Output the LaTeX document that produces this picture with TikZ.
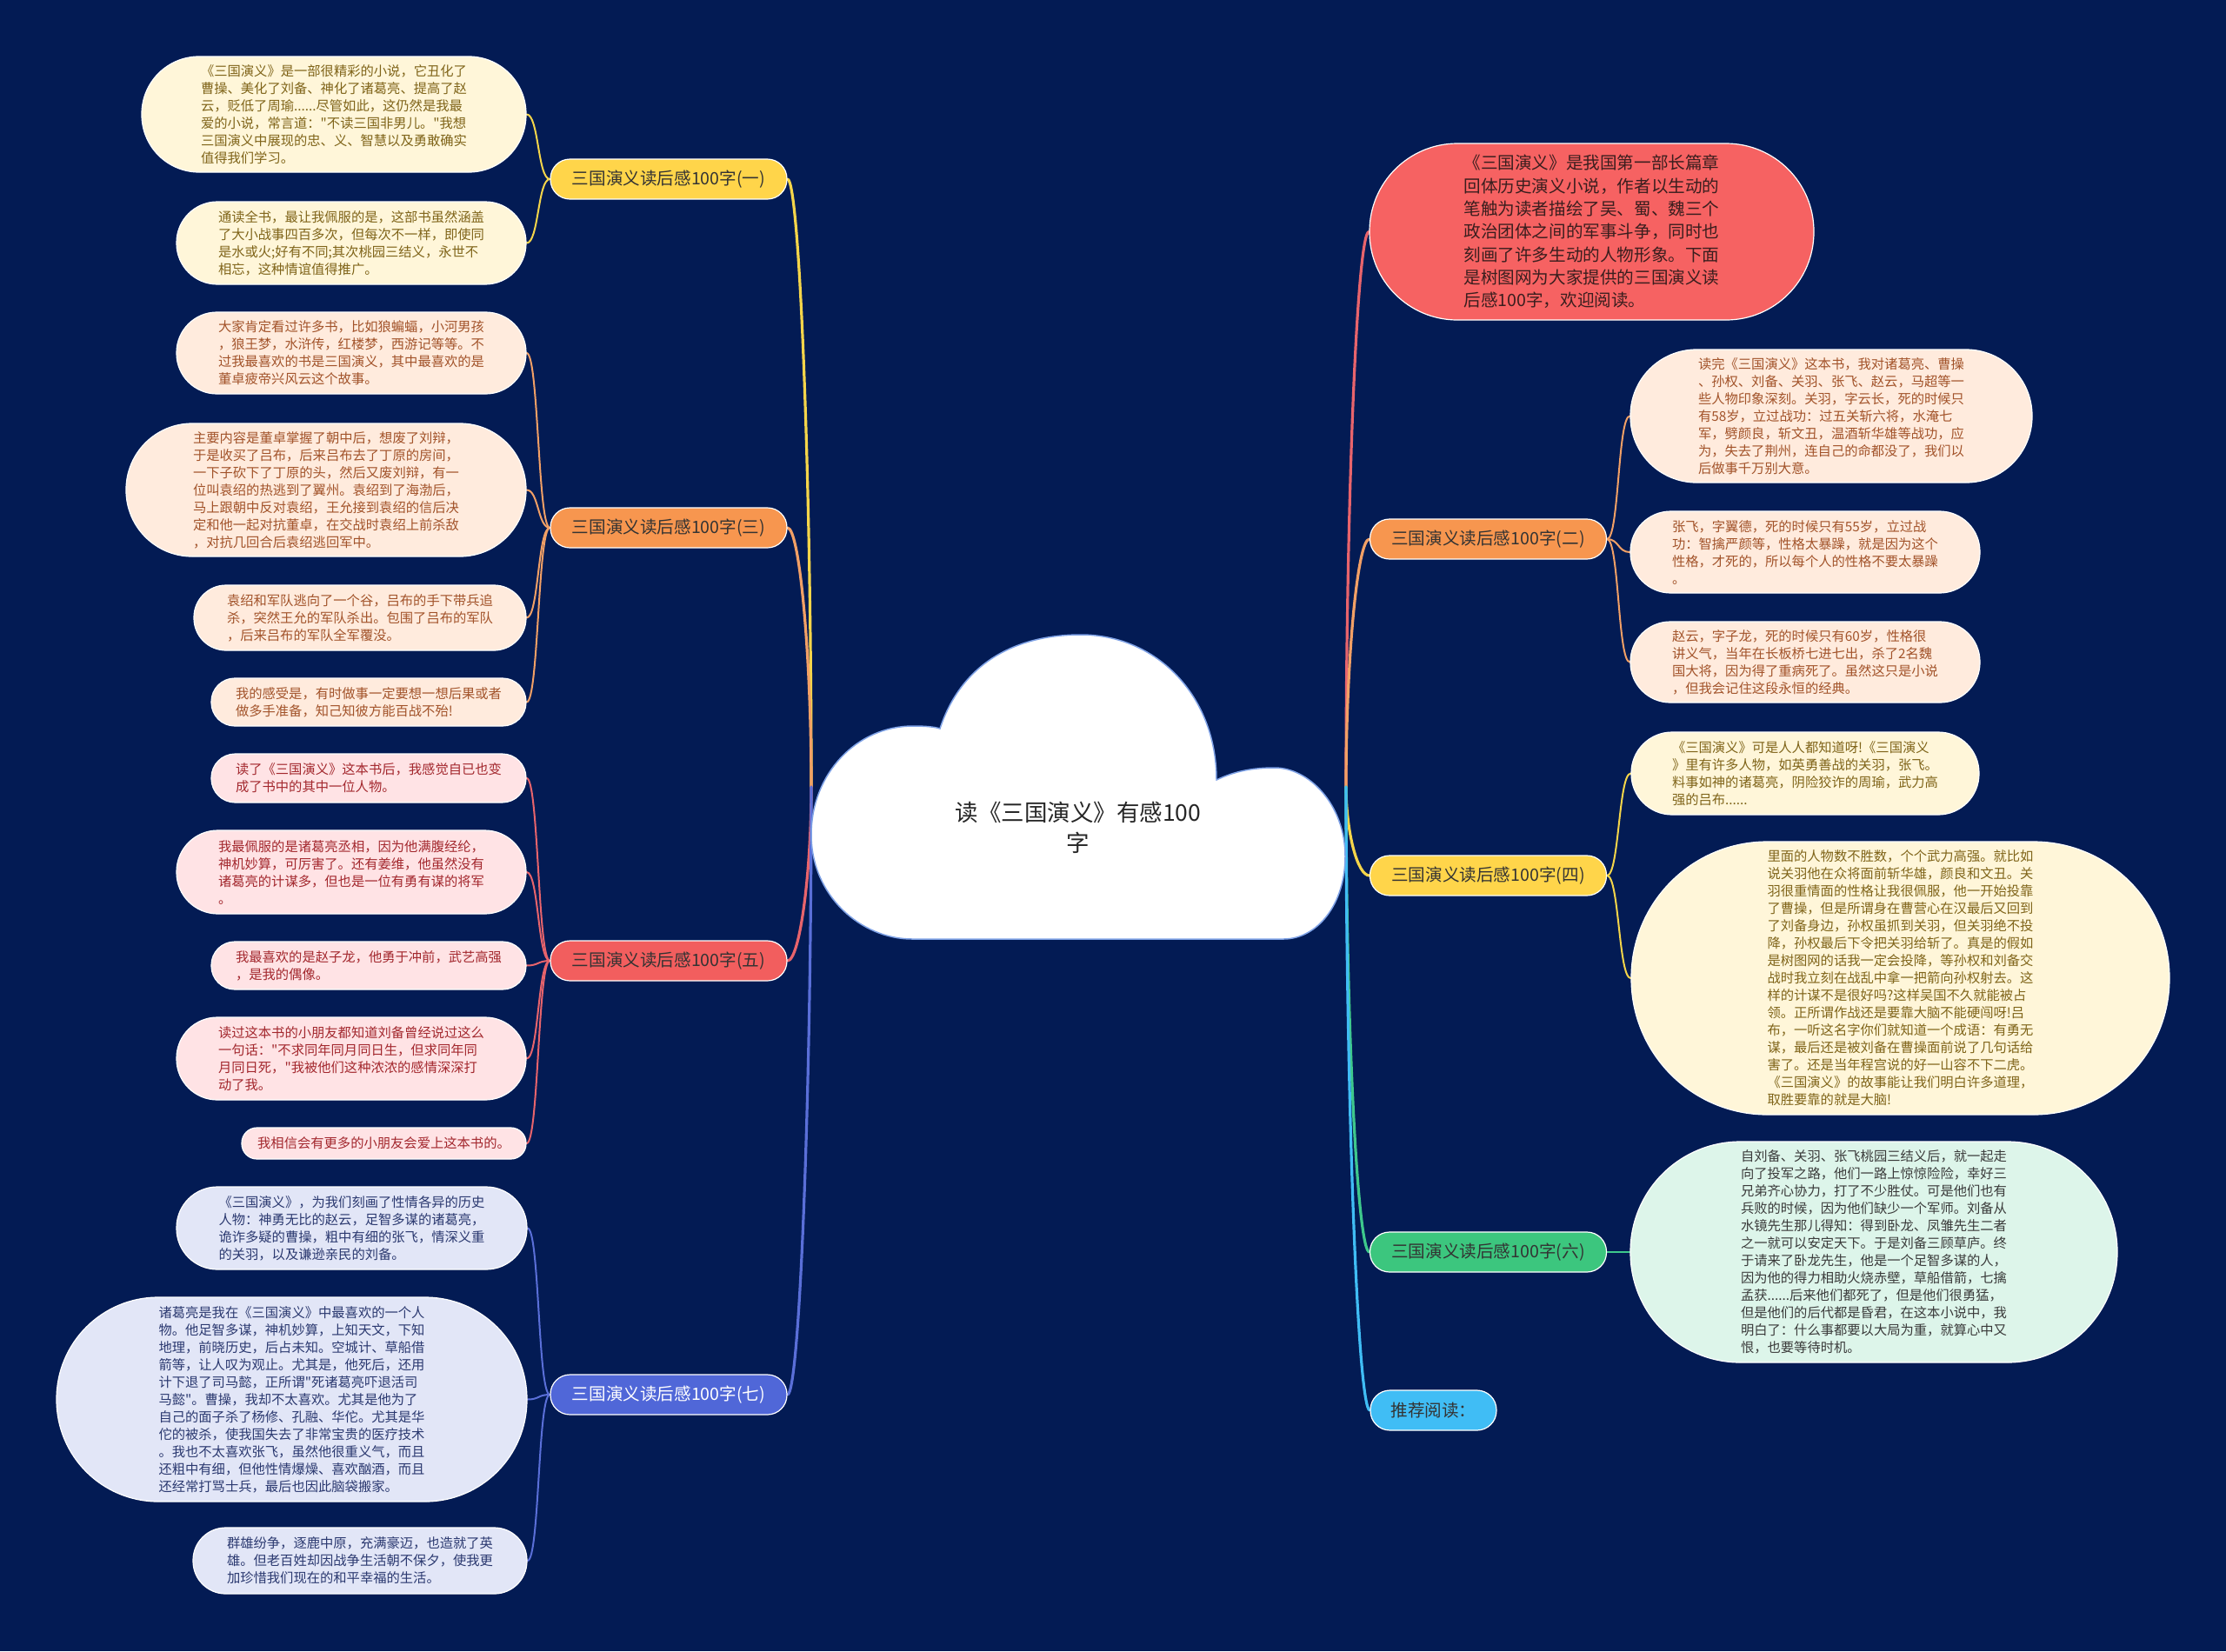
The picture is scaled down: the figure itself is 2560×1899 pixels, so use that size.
\documentclass[tikz,border=0pt]{standalone}
\usepackage{fontspec}
\newfontfamily\cjk{Noto Sans CJK SC}
\newcommand\lfnt{\cjk\fontsize{15.3}{20}\selectfont}
\newcommand\pfnt{\cjk\fontsize{19.6}{24}\selectfont}
\newcommand\bfnt{\cjk\fontsize{19.6}{26.3}\selectfont}
\newcommand\rfnt{\cjk\fontsize{26.5}{35}\selectfont}
\definecolor{bg}{HTML}{031B54}
\definecolor{cloudedge}{HTML}{7FA2E6}
\definecolor{creamfill}{HTML}{FFF6D9}
\definecolor{creamtx}{HTML}{7F6419}
\definecolor{peachfill}{HTML}{FFEBDD}
\definecolor{peachtx}{HTML}{A2532A}
\definecolor{pinkfill}{HTML}{FFE3E5}
\definecolor{pinktx}{HTML}{A3282E}
\definecolor{lavfill}{HTML}{E2E6F7}
\definecolor{lavtx}{HTML}{2B3970}
\definecolor{mintfill}{HTML}{DDF5EA}
\definecolor{minttx}{HTML}{3A3A3A}
\definecolor{redfill}{HTML}{F66262}
\definecolor{redtx}{HTML}{3A1E1E}
\definecolor{pilltx}{HTML}{333333}
\definecolor{yelpill}{HTML}{FFD54A}
\definecolor{orpill}{HTML}{F7964F}
\definecolor{redpill}{HTML}{F25E5E}
\definecolor{bluepill}{HTML}{5067D8}
\definecolor{greenpill}{HTML}{3CC67E}
\definecolor{skypill}{HTML}{40BDF5}
\definecolor{lnyel}{HTML}{F5D54A}
\definecolor{lnor}{HTML}{F2A066}
\definecolor{lnred}{HTML}{E8646C}
\definecolor{lnblue}{HTML}{5A6FD8}
\definecolor{lngreen}{HTML}{3EC88C}
\definecolor{lnsky}{HTML}{40BDF5}
\pgfdeclarelayer{bgl}
\pgfsetlayers{bgl,main}
\tikzset{
  sz/.style 2 args={minimum width=#1, minimum height=#2, rounded corners={#2/2-0.5}},
  leaf/.style={draw=white, line width=1.2, align=left, inner sep=0, font=\lfnt},
  pill/.style={draw=white, line width=1.2, inner sep=0, font=\pfnt, text=pilltx, sz={272}{46}},
  rootln/.style={line width=3.2, line cap=round},
  leafln/.style={line width=2, line cap=round},
}
\begin{document}
\begin{tikzpicture}[x=1pt,y=-1pt]
\begin{pgfonlayer}{bgl}
\fill[bg] (0,0) rectangle (2560,1899);
\end{pgfonlayer}
\useasboundingbox (0,0) rectangle (2560,1899);

% central cloud
\fill[white, draw=cloudedge, line width=1.5] (1049,1080) .. controls (990,1080) and (933,1030) .. (933,960)
  .. controls (933,890) and (985,835) .. (1050,835)
  .. controls (1065,835) and (1075,836) .. (1081,838)
  .. controls (1105,765) and (1165,730) .. (1243,730)
  .. controls (1330,730) and (1399,800) .. (1399,897)
  .. controls (1420,887) and (1440,883) .. (1466,883)
  .. controls (1505,883) and (1547,925) .. (1547,985)
  .. controls (1547,1040) and (1515,1080) .. (1476,1080) -- cycle;
\node[font=\rfnt, align=center, text=black!85] (root) at (1240,952) {读《三国演义》有感100\\字};
\coordinate (rootL) at (933,905);
\coordinate (rootR) at (1548,905);

% branch pills
\node[pill, fill=yelpill] (b1) at (769,206) {三国演义读后感100字(一)};
\node[pill, fill=orpill] (b3) at (769,607) {三国演义读后感100字(三)};
\node[pill, fill=redpill] (b5) at (769,1105) {三国演义读后感100字(五)};
\node[pill, fill=bluepill, text=white] (b7) at (769,1604) {三国演义读后感100字(七)};
\node[pill, fill=orpill] (b2) at (1711.5,620) {三国演义读后感100字(二)};
\node[pill, fill=yelpill] (b4) at (1711.5,1007) {三国演义读后感100字(四)};
\node[pill, fill=greenpill] (b6) at (1711.5,1440) {三国演义读后感100字(六)};
\node[pill, fill=skypill, sz={145}{46}] (b8) at (1648.5,1622) {推荐阅读：};

% red intro box
\node[draw=white, line width=1.2, align=left, inner sep=0, font=\bfnt, fill=redfill, text=redtx, sz={511}{203}] (r0) at (1830.5,266.5) {《三国演义》是我国第一部长篇章\\回体历史演义小说，作者以生动的\\笔触为读者描绘了吴、蜀、魏三个\\政治团体之间的军事斗争，同时也\\刻画了许多生动的人物形象。下面\\是树图网为大家提供的三国演义读\\后感100字，欢迎阅读。};

% (一)
\node[leaf, fill=creamfill, text=creamtx, sz={442}{133}] (l1a) at (384,131.5) {《三国演义》是一部很精彩的小说，它丑化了\\曹操、美化了刘备、神化了诸葛亮、提高了赵\\云，贬低了周瑜......尽管如此，这仍然是我最\\爱的小说，常言道："不读三国非男儿。"我想\\三国演义中展现的忠、义、智慧以及勇敢确实\\值得我们学习。};
\node[leaf, fill=creamfill, text=creamtx, sz={402}{95}] (l1b) at (404,279.5) {通读全书，最让我佩服的是，这部书虽然涵盖\\了大小战事四百多次，但每次不一样，即使同\\是水或火;好有不同;其次桃园三结义，永世不\\相忘，这种情谊值得推广。};

% (三)
\node[leaf, fill=peachfill, text=peachtx, sz={402}{94}] (l3a) at (404,406) {大家肯定看过许多书，比如狼蝙蝠，小河男孩\\，狼王梦，水浒传，红楼梦，西游记等等。不\\过我最喜欢的书是三国演义，其中最喜欢的是\\董卓疲帝兴风云这个故事。};
\node[leaf, fill=peachfill, text=peachtx, sz={460}{153}] (l3b) at (375,563.5) {主要内容是董卓掌握了朝中后，想废了刘辩，\\于是收买了吕布，后来吕布去了丁原的房间，\\一下子砍下了丁原的头，然后又废刘辩，有一\\位叫袁绍的热逃到了翼州。袁绍到了海渤后，\\马上跟朝中反对袁绍，王允接到袁绍的信后决\\定和他一起对抗董卓，在交战时袁绍上前杀敌\\，对抗几回合后袁绍逃回军中。};
\node[leaf, fill=peachfill, text=peachtx, sz={382}{75}] (l3c) at (414,710.5) {袁绍和军队逃向了一个谷，吕布的手下带兵追\\杀，突然王允的军队杀出。包围了吕布的军队\\，后来吕布的军队全军覆没。};
\node[leaf, fill=peachfill, text=peachtx, sz={362}{55}] (l3d) at (424,807.5) {我的感受是，有时做事一定要想一想后果或者\\做多手准备，知己知彼方能百战不殆!};

% (五)
\node[leaf, fill=pinkfill, text=pinktx, sz={362}{56}] (l5a) at (424,895) {读了《三国演义》这本书后，我感觉自已也变\\成了书中的其中一位人物。};
\node[leaf, fill=pinkfill, text=pinktx, sz={402}{96}] (l5b) at (404,1003) {我最佩服的是诸葛亮丞相，因为他满腹经纶，\\神机妙算，可厉害了。还有姜维，他虽然没有\\诸葛亮的计谋多，但也是一位有勇有谋的将军\\。};
\node[leaf, fill=pinkfill, text=pinktx, sz={362}{55}] (l5c) at (424,1110.5) {我最喜欢的是赵子龙，他勇于冲前，武艺高强\\，是我的偶像。};
\node[leaf, fill=pinkfill, text=pinktx, sz={402}{95}] (l5d) at (404,1217.5) {读过这本书的小朋友都知道刘备曾经说过这么\\一句话："不求同年同月同日生，但求同年同\\月同日死，"我被他们这种浓浓的感情深深打\\动了我。};
\node[leaf, fill=pinkfill, text=pinktx, sz={327}{36}] (l5e) at (441.5,1315) {我相信会有更多的小朋友会爱上这本书的。};

% (七)
\node[leaf, fill=lavfill, text=lavtx, sz={403}{95}] (l7a) at (404.5,1412.5) {《三国演义》，为我们刻画了性情各异的历史\\人物：神勇无比的赵云，足智多谋的诸葛亮，\\诡诈多疑的曹操，粗中有细的张飞，情深义重\\的关羽，以及谦逊亲民的刘备。};
\node[leaf, fill=lavfill, text=lavtx, sz={541}{235}] (l7b) at (335.5,1609.5) {诸葛亮是我在《三国演义》中最喜欢的一个人\\物。他足智多谋，神机妙算，上知天文，下知\\地理，前晓历史，后占未知。空城计、草船借\\箭等，让人叹为观止。尤其是，他死后，还用\\计下退了司马懿，正所谓"死诸葛亮吓退活司\\马懿"。曹操，我却不太喜欢。尤其是他为了\\自己的面子杀了杨修、孔融、华佗。尤其是华\\佗的被杀，使我国失去了非常宝贵的医疗技术\\。我也不太喜欢张飞，虽然他很重义气，而且\\还粗中有细，但他性情爆燥、喜欢酗酒，而且\\还经常打骂士兵，最后也因此脑袋搬家。};
\node[leaf, fill=lavfill, text=lavtx, sz={384}{76}] (l7c) at (414,1795) {群雄纷争，逐鹿中原，充满豪迈，也造就了英\\雄。但老百姓却因战争生活朝不保夕，使我更\\加珍惜我们现在的和平幸福的生活。};

% (二)
\node[leaf, fill=peachfill, text=peachtx, sz={462}{153}] (r2a) at (2106,478.5) {读完《三国演义》这本书，我对诸葛亮、曹操\\、孙权、刘备、关羽、张飞、赵云，马超等一\\些人物印象深刻。关羽，字云长，死的时候只\\有58岁，立过战功：过五关斩六将，水淹七\\军，劈颜良，斩文丑，温酒斩华雄等战功，应\\为，失去了荆州，连自己的命都没了，我们以\\后做事千万别大意。};
\node[leaf, fill=peachfill, text=peachtx, sz={402}{94}] (r2b) at (2076,635) {张飞，字翼德，死的时候只有55岁，立过战\\功：智擒严颜等，性格太暴躁，就是因为这个\\性格，才死的，所以每个人的性格不要太暴躁\\。};
\node[leaf, fill=peachfill, text=peachtx, sz={402}{93}] (r2c) at (2076,761.5) {赵云，字子龙，死的时候只有60岁，性格很\\讲义气，当年在长板桥七进七出，杀了2名魏\\国大将，因为得了重病死了。虽然这只是小说\\，但我会记住这段永恒的经典。};

% (四)
\node[leaf, fill=creamfill, text=creamtx, sz={400}{95}] (r4a) at (2076,889.5) {《三国演义》可是人人都知道呀!《三国演义\\》里有许多人物，如英勇善战的关羽，张飞。\\料事如神的诸葛亮，阴险狡诈的周瑜，武力高\\强的吕布......};
\node[leaf, fill=creamfill, text=creamtx, sz={619}{314}] (r4b) at (2185.5,1125) {里面的人物数不胜数，个个武力高强。就比如\\说关羽他在众将面前斩华雄，颜良和文丑。关\\羽很重情面的性格让我很佩服，他一开始投靠\\了曹操，但是所谓身在曹营心在汉最后又回到\\了刘备身边，孙权虽抓到关羽，但关羽绝不投\\降，孙权最后下令把关羽给斩了。真是的假如\\是树图网的话我一定会投降，等孙权和刘备交\\战时我立刻在战乱中拿一把箭向孙权射去。这\\样的计谋不是很好吗?这样吴国不久就能被占\\领。正所谓作战还是要靠大脑不能硬闯呀!吕\\布，一听这名字你们就知道一个成语：有勇无\\谋，最后还是被刘备在曹操面前说了几句话给\\害了。还是当年程宫说的好一山容不下二虎。\\《三国演义》的故事能让我们明白许多道理，\\取胜要靠的就是大脑!};

% (六)
\node[leaf, fill=mintfill, text=minttx, sz={560}{254}] (r6a) at (2155,1440) {自刘备、关羽、张飞桃园三结义后，就一起走\\向了投军之路，他们一路上惊惊险险，幸好三\\兄弟齐心协力，打了不少胜仗。可是他们也有\\兵败的时候，因为他们缺少一个军师。刘备从\\水镜先生那儿得知：得到卧龙、凤雏先生二者\\之一就可以安定天下。于是刘备三顾草庐。终\\于请来了卧龙先生，他是一个足智多谋的人，\\因为他的得力相助火烧赤壁，草船借箭，七擒\\孟获......后来他们都死了，但是他们很勇猛，\\但是他们的后代都是昏君，在这本小说中，我\\明白了：什么事都要以大局为重，就算心中又\\恨，也要等待时机。};

% connectors
\begin{pgfonlayer}{bgl}
\draw[rootln, lnyel] (rootL) .. controls +(0,-350) and +(14,0) .. (b1.east);
\draw[rootln, lnor] (rootL) .. controls +(0,-150) and +(14,0) .. (b3.east);
\draw[rootln, lnred] (rootL) .. controls +(0,100) and +(14,0) .. (b5.east);
\draw[rootln, lnblue] (rootL) .. controls +(0,350) and +(14,0) .. (b7.east);
\draw[rootln, lnred] (rootR) .. controls +(0,-320) and +(-14,0) .. (r0.west);
\draw[rootln, lnor] (rootR) .. controls +(0,-143) and +(-14,0) .. (b2.west);
\draw[rootln, lnyel] (rootR) .. controls +(0,51) and +(-14,0) .. (b4.west);
\draw[rootln, lngreen] (rootR) .. controls +(0,268) and +(-14,0) .. (b6.west);
\draw[rootln, lnsky] (rootR) .. controls +(0,358) and +(-14,0) .. (b8.west);

\foreach \lf in {l1a,l1b}
  \draw[leafln, lnyel] (b1.west) .. controls +(-14,0) and +(14,0) .. (\lf.east);
\foreach \lf in {l3a,l3b,l3c,l3d}
  \draw[leafln, lnor] (b3.west) .. controls +(-14,0) and +(14,0) .. (\lf.east);
\foreach \lf in {l5a,l5b,l5c,l5d,l5e}
  \draw[leafln, lnred] (b5.west) .. controls +(-14,0) and +(14,0) .. (\lf.east);
\foreach \lf in {l7a,l7b,l7c}
  \draw[leafln, lnblue] (b7.west) .. controls +(-14,0) and +(14,0) .. (\lf.east);
\foreach \lf in {r2a,r2b,r2c}
  \draw[leafln, lnor] (b2.east) .. controls +(14,0) and +(-14,0) .. (\lf.west);
\foreach \lf in {r4a,r4b}
  \draw[leafln, lnyel] (b4.east) .. controls +(14,0) and +(-14,0) .. (\lf.west);
\draw[leafln, lngreen] (b6.east) .. controls +(14,0) and +(-14,0) .. (r6a.west);
\end{pgfonlayer}
\end{tikzpicture}
\end{document}
